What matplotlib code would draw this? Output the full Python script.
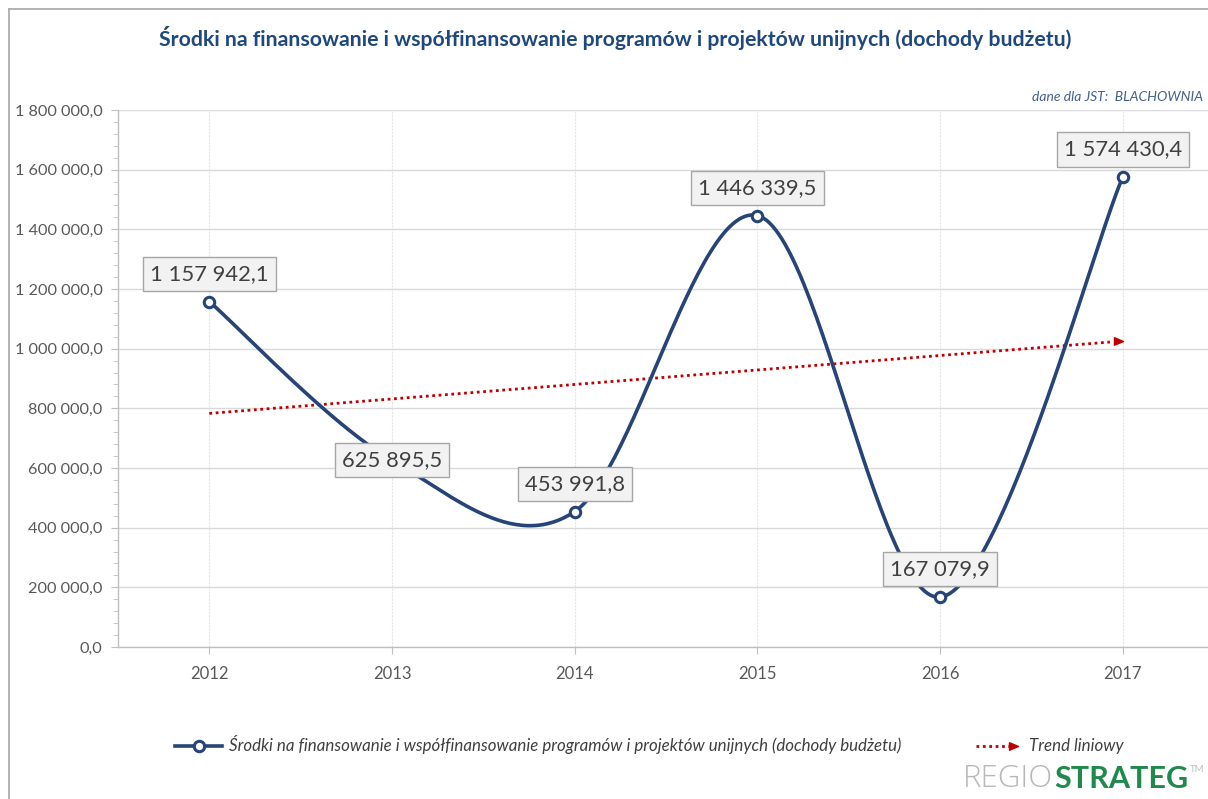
import numpy as np
import matplotlib
matplotlib.use("Agg")
import matplotlib.pyplot as plt
from matplotlib.lines import Line2D
from matplotlib.path import Path
from matplotlib.legend_handler import HandlerBase
from matplotlib.ticker import FuncFormatter, MultipleLocator

plt.rcParams['font.family'] = ['Lato', 'DejaVu Sans']

# --- data -------------------------------------------------------------
years = ["2012", "2013", "2014", "2015", "2016", "2017"]
values = [1157942.1, 625895.5, 453991.8, 1446339.5, 167079.9, 1574430.4]
label_offsets = [1, 0, 1, 1, 1, 1]   # 1 = label above the point, 0 = centred on it

title = "Środki na finansowanie i współfinansowanie programów i projektów unijnych (dochody budżetu)"
series_name = "Środki na finansowanie i współfinansowanie programów i projektów unijnych (dochody budżetu)"
trend_name = "Trend liniowy"
source_note = "dane dla JST:  BLACHOWNIA"

LINE_BLUE = "#264478"
TITLE_BLUE = "#1F497D"
TREND_RED = "#C00000"
GREY_TXT = "#595959"


def pl_number(v, decimals=1):
    s = f"{v:,.{decimals}f}"
    return s.replace(",", " ").replace(".", ",")


def smooth_curve(xs, ys, factor=1/6, n=60):
    """Cubic Bezier through all points, tangents from neighbouring points."""
    xs = np.asarray(xs, float)
    ys = np.asarray(ys, float)
    pts = np.column_stack([xs, ys])
    out = []
    for i in range(len(pts) - 1):
        p0 = pts[i - 1] if i > 0 else pts[i]
        p1 = pts[i]
        p2 = pts[i + 1]
        p3 = pts[i + 2] if i + 2 < len(pts) else pts[i + 1]
        c1 = p1 + (p2 - p0) * factor
        c2 = p2 - (p3 - p1) * factor
        t = np.linspace(0, 1, n)[:, None]
        seg = ((1 - t) ** 3) * p1 + 3 * ((1 - t) ** 2) * t * c1 + 3 * (1 - t) * t ** 2 * c2 + t ** 3 * p2
        out.append(seg if i == 0 else seg[1:])
    seg = np.vstack(out)
    return seg[:, 0], seg[:, 1]


ARROW = Path([(-1.0, -0.42), (0.0, 0.0), (-1.0, 0.42), (-1.0, -0.42)],
             [Path.MOVETO, Path.LINETO, Path.LINETO, Path.CLOSEPOLY])
DOTS = (0, (1, 1.3))


class TrendHandler(HandlerBase):
    def create_artists(self, legend, orig, xdescent, ydescent, width, height, fontsize, trans):
        y = height / 2 - ydescent
        x0, x1 = -xdescent, width - xdescent - 3
        line = Line2D([x0, x1 - 6], [y, y], color=TREND_RED, lw=2, linestyle=DOTS)
        head = Line2D([x1], [y], marker=ARROW, ms=13, color=TREND_RED, mec=TREND_RED,
                      linestyle='none')
        line.set_transform(trans)
        head.set_transform(trans)
        return [line, head]


# --- figure -----------------------------------------------------------
W, H = 1208, 799
fig = plt.figure(figsize=(W / 100, H / 100), dpi=100)
fig.patch.set_facecolor("white")

# chart frame (top and left edges)
fig.add_artist(Line2D([9 / W, 9 / W], [0, 1 - 9 / H], color="#a6a6a6", lw=1.2))
fig.add_artist(Line2D([9 / W, 1], [1 - 9 / H, 1 - 9 / H], color="#a6a6a6", lw=1.2))

ax_l, ax_r = 118, 1214
ax_t, ax_b = 110, 647
ax = fig.add_axes([ax_l / W, 1 - ax_b / H, (ax_r - ax_l) / W, (ax_b - ax_t) / H])
ax.set_facecolor("none")

x = np.arange(len(years))
ax.set_xlim(-0.5, len(years) - 0.5)
ax.set_ylim(0, 1800000)

# grid
ax.yaxis.set_major_locator(MultipleLocator(200000))
ax.yaxis.set_minor_locator(MultipleLocator(40000))
ax.grid(axis="y", which="major", color="#d9d9d9", lw=1)
ax.set_xticks(x)
ax.set_xticklabels(years)
ax.grid(axis="x", which="major", color="#e6e6e6", lw=0.8, linestyle=(0, (2, 1)))
ax.set_axisbelow(True)

for s in ("top", "right"):
    ax.spines[s].set_visible(False)
ax.spines["left"].set_color("#bfbfbf")
ax.spines["bottom"].set_color("#bfbfbf")
ax.spines["left"].set_linewidth(1)
ax.spines["bottom"].set_linewidth(1)

ax.yaxis.set_major_formatter(FuncFormatter(lambda v, p: pl_number(v)))
ax.tick_params(axis="y", which="major", length=5, color="#bfbfbf", labelsize=11.7,
               labelcolor=GREY_TXT, pad=6)
ax.tick_params(axis="y", which="minor", length=3.5, color="#bfbfbf")
ax.tick_params(axis="x", which="major", length=5, color="#bfbfbf", labelsize=12,
               labelcolor=GREY_TXT, pad=9)

# smoothed series line
sx, sy = smooth_curve(x, values)
ax.plot(sx, sy, color=LINE_BLUE, lw=2.6, solid_capstyle="round", zorder=3)
ax.plot(x, values, linestyle="none", marker="o", ms=7.5, mfc="white", mec=LINE_BLUE,
        mew=2.2, zorder=4)

# linear trend
slope, intercept = np.polyfit(x, values, 1)
tx = np.array([x[0], x[-1]])
ty = slope * tx + intercept
gap = 0.07
ax.plot([tx[0], tx[1] - gap], [ty[0], ty[1] - slope * gap], color=TREND_RED, lw=2,
        linestyle=DOTS, zorder=2)
ax.plot([tx[1]], [ty[1]], linestyle="none", marker=ARROW, ms=13, color=TREND_RED, zorder=2)

# value labels
for xi, v, off in zip(x, values, label_offsets):
    ax.annotate(pl_number(v), (xi, v), xytext=(0, 20 * off), textcoords="offset points",
                ha="center", va="center", fontsize=15.8, color="#404040", zorder=5,
                bbox=dict(boxstyle="square,pad=0.32", fc="#f2f2f2", ec="#a6a6a6", lw=1))

# titles and notes
fig.text(615 / W, 1 - 38 / H, title, ha="center", va="center", fontsize=15.3,
         fontweight="bold", color=TITLE_BLUE)
fig.text(1203 / W, 1 - 97 / H, source_note, ha="right", va="center", fontsize=10,
         style="italic", color="#44608a")

# legend
h_series = Line2D([], [], color=LINE_BLUE, lw=2.6, marker="o", ms=7.5, mfc="white",
                  mec=LINE_BLUE, mew=2.2)
h_trend = Line2D([], [])
leg = fig.legend([h_series, h_trend], [series_name, trend_name], ncol=2,
                 loc="center left", bbox_to_anchor=(160 / W, 1 - 745 / H),
                 frameon=False, handlelength=2.75, handletextpad=0.4, columnspacing=4.4,
                 prop=dict(size=12.2, style="italic"),
                 handler_map={h_trend: TrendHandler()})
for t in leg.get_texts():
    t.set_color("#404040")

# logo
renderer = fig.canvas.get_renderer()
t1 = fig.text(963 / W, 1 - 779 / H, "REGIO", ha="left", va="center", fontsize=22.5,
              color="#b8b8b8", family=["Open Sans", "DejaVu Sans"], fontweight="light")
bb = t1.get_window_extent(renderer)
t2 = fig.text(bb.x1 / W + 0.001, 1 - 779 / H, "STRATEG", ha="left", va="center", fontsize=22,
              color="#1f8a4c", fontweight="bold")
bb2 = t2.get_window_extent(renderer)
fig.text(bb2.x1 / W + 0.001, 1 - 770 / H, "TM", ha="left", va="center", fontsize=7,
         color="#bfbfbf")

fig.savefig("out.png", dpi=100)
